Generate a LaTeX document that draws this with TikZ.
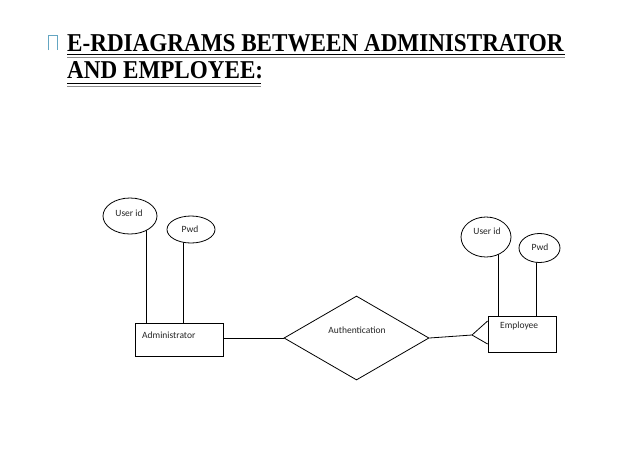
\documentclass[tikz,border=0pt]{standalone}
\usepackage{fontspec}
\usepackage{graphicx}
\setmainfont{Liberation Serif}
\newfontfamily\lblfont{Carlito}
\usetikzlibrary{shapes.geometric}
\pgfdeclarelayer{bg}
\pgfsetlayers{bg,main}
\tikzset{
  erline/.style={draw=black, line width=0.8pt},
  attr/.style={ellipse, draw=black, line width=0.8pt, fill=white, inner sep=0pt},
  entbox/.style={rectangle, draw=black, line width=0.8pt, fill=white, inner sep=0pt},
  relbox/.style={diamond, draw=black, line width=0.8pt, fill=white, inner sep=0pt},
  lbl/.style={font=\lblfont\fontsize{9.5}{11}\selectfont, text=black!85, inner sep=0pt},
  ttl/.style={font=\bfseries\fontsize{25.7}{30}\selectfont, inner sep=0pt, anchor=base west},
}
\begin{document}
\begin{tikzpicture}[x=1pt,y=-1pt]
\useasboundingbox (0,0) rectangle (632,475);
% bullet glyph
\draw[cyan!50!gray, line width=0.6pt] (48.5,50) -- (48.5,35.5) -- (57.5,35.5) -- (57.5,50);
% title
\node[ttl] (t1) at (67,51) {\scalebox{0.9}[1]{E-RDIAGRAMS BETWEEN ADMINISTRATOR}};
\node[ttl] (t2) at (67,78) {\scalebox{0.9}[1]{AND EMPLOYEE:}};
\draw[line width=1.8pt] (t1.base west) ++(0,3.5) -- ++(498,0);
\draw[line width=0.5pt, black!45] (t1.base west) ++(0,6) -- ++(498,0);
\draw[line width=1.8pt] (t2.base west) ++(0,5.5) -- ++(194,0);
\draw[line width=0.5pt, black!45] (t2.base west) ++(0,8.5) -- ++(194,0);
% entities
\node[entbox, minimum width=88pt, minimum height=33pt] (adm) at (179,339.5) {};
\node[lbl, anchor=west] (admt) at (142,335) {Administrator};
\node[entbox, minimum width=68pt, minimum height=36pt] (emp) at (522,334) {};
\node[lbl, anchor=west] (empt) at (500,326) {Employee};
% relationship
\node[relbox, minimum width=145pt, minimum height=84pt] (auth) at (356.5,338) {};
\node[lbl] (autht) at (357,330) {Authentication};
% attributes
\node[attr, minimum width=54pt, minimum height=36pt] (uid1) at (130,216) {};
\node[lbl] (uid1t) at (129,213) {User id};
\node[attr, minimum width=48pt, minimum height=27pt] (pwd1) at (191,229.5) {};
\node[lbl] (pwd1t) at (190,229) {Pwd};
\node[attr, minimum width=50pt, minimum height=40pt] (uid2) at (486,237) {};
\node[lbl] (uid2t) at (487,231) {User id};
\node[attr, minimum width=41pt, minimum height=29pt] (pwd2) at (539.5,248) {};
\node[lbl] (pwd2t) at (540,247) {Pwd};
% connectors
\begin{pgfonlayer}{bg}
\fill[white] (0,0) rectangle (632,475);
\draw[erline] ([xshift=16pt]uid1.center) -- ([xshift=16pt]uid1.center |- adm.north);
\draw[erline] ([xshift=-8pt]pwd1.center) -- ([xshift=-8pt]pwd1.center |- adm.north);
\draw[erline] ([xshift=12pt]uid2.center) -- ([xshift=12pt]uid2.center |- emp.north);
\draw[erline] ([xshift=-3.5pt]pwd2.center) -- ([xshift=-3.5pt]pwd2.center |- emp.north);
\end{pgfonlayer}
\draw[erline] (auth.west) -- (auth.west -| adm.east);
\coordinate (crow) at (472,335);
\draw[erline] (auth.east) -- (crow);
\draw[erline] (crow) -- ([yshift=-10pt]emp.west);
\draw[erline] (crow) -- ([yshift=13pt]emp.west);
\end{tikzpicture}
\end{document}
